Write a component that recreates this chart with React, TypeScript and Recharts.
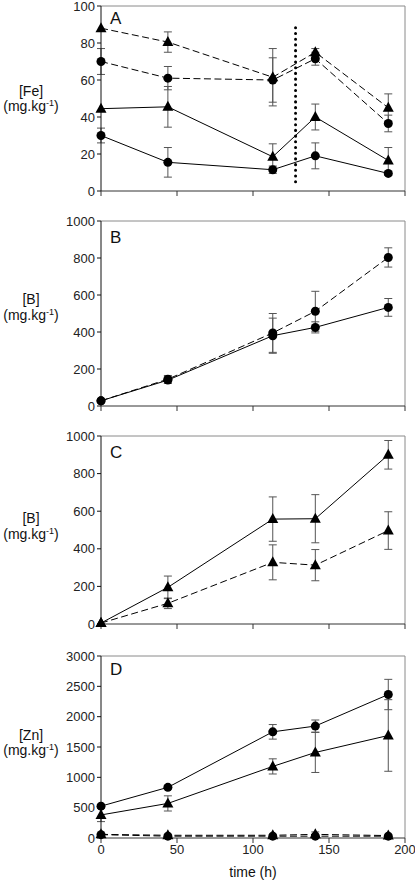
import React from 'react';
import { LineChart, Line, XAxis, YAxis, ErrorBar, ReferenceLine } from 'recharts';

const FONT = '"Liberation Sans", Arial, sans-serif';

// time points (h)
const times = [0, 44, 113, 141, 189];
const xTicks = [0, 50, 100, 150, 200];

// Panel A: [Fe]
const feTriDashed = [88, 80.5, 61.5, 75, 45];
const feTriDashedErr = [0, 5.5, 15.5, 2, 7.5];
const feCircDashed = [70, 61, 60, 71.5, 36.5];
const feCircDashedErr = [7, 6.3, 12, 3.5, 4.5];
const feTriSolid = [44.5, 45.5, 18.5, 40, 16.5];
const feTriSolidErr = [0, 11, 7, 7, 7];
const feCircSolid = [30, 15.5, 11.5, 19, 9.5];
const feCircSolidErr = [4, 8, 2, 7, 1];
const feTicks = [0, 20, 40, 60, 80, 100];

// Panel B: [B]
const bCircSolid = [28, 140, 380, 425, 533];
const bCircSolidErr = [8, 18, 95, 30, 48];
const bCircDashed = [28, 145, 395, 512, 803];
const bCircDashedErr = [8, 20, 105, 108, 52];
const bTicks = [0, 200, 400, 600, 800, 1000];

// Panel C: [B]
const cTriSolid = [5, 195, 558, 560, 900];
const cTriSolidErr = [0, 60, 118, 128, 76];
const cTriDashed = [5, 110, 328, 313, 497];
const cTriDashedErr = [0, 28, 93, 83, 100];
const cTicks = [0, 200, 400, 600, 800, 1000];

// Panel D: [Zn]
const zCircSolid = [525, 835, 1750, 1845, 2365];
const zCircSolidErr = [20, 30, 120, 100, 250];
const zTriSolid = [380, 570, 1180, 1410, 1690];
const zTriSolidErr = [110, 125, 125, 330, 590];
const zCircDashed = [55, 30, 30, 30, 30];
const zCircDashedErr = [0, 0, 0, 0, 0];
const zTriDashed = [60, 45, 45, 60, 40];
const zTriDashedErr = [0, 0, 0, 40, 0];
const zTicks = [0, 500, 1000, 1500, 2000, 2500, 3000];

type Series = { key: string; values: number[]; err: number[]; shape: 'tri' | 'circ'; dashed: boolean };

const Circ = (p: any) => {
  if (p.cx == null || p.cy == null) return <g key={p.key} />;
  return <circle key={p.key} cx={p.cx} cy={p.cy} r={4.5} fill="#000" stroke="none" />;
};
const Tri = (p: any) => {
  if (p.cx == null || p.cy == null) return <g key={p.key} />;
  const { cx, cy } = p;
  return (
    <polygon
      key={p.key}
      points={`${cx},${cy - 6} ${cx - 5.5},${cy + 4} ${cx + 5.5},${cy + 4}`}
      fill="#000"
      stroke="none"
    />
  );
};

function buildData(series: Series[]) {
  return times.map((t, i) => {
    const row: any = { t };
    series.forEach((s) => {
      row[s.key] = s.values[i];
      row[s.key + 'E'] = s.err[i];
    });
    return row;
  });
}

type PanelProps = {
  top: number;
  height: number;
  plotTop: number;
  xAxisHeight: number;
  yMax: number;
  yTicks: number[];
  letter: string;
  letterY: number;
  ylab: string;
  lab1Y: number;
  lab2Y: number;
  series: Series[];
  showX: boolean;
  dotted?: boolean;
};

function Panel(props: PanelProps) {
  const data = buildData(props.series);
  const labelContent = () => (
    <g fontFamily={FONT} fill="#111">
      <text x={31} y={props.lab1Y} textAnchor="middle" fontSize={14}>
        {props.ylab}
      </text>
      <text x={31} y={props.lab2Y} textAnchor="middle" fontSize={14}>
        (mg.kg
        <tspan dy={-5} fontSize={9}>-1</tspan>
        <tspan dy={5}>)</tspan>
      </text>
      <text x={110} y={props.letterY} fontSize={17}>
        {props.letter}
      </text>
    </g>
  );
  const xLabelContent = () =>
    props.showX ? (
      <text x={253} y={237} textAnchor="middle" fontSize={14} fontFamily={FONT} fill="#111">
        time (h)
      </text>
    ) : (
      <g />
    );
  return (
    <div style={{ position: 'absolute', left: 0, top: props.top }}>
      <LineChart
        width={415}
        height={props.height}
        data={data}
        margin={{ top: props.plotTop, right: 10, bottom: 0, left: 0 }}
      >
        <XAxis
          dataKey="t"
          type="number"
          domain={[0, 200]}
          ticks={xTicks}
          height={props.xAxisHeight}
          stroke="#333"
          tickLine={{ stroke: '#333' }}
          tickSize={5}
          tickMargin={2}
          tick={{ fontSize: 13, fill: '#222', fontFamily: FONT }}
          tickFormatter={(v: number) => (props.showX ? String(v) : '')}
          label={{ content: xLabelContent } as any}
          allowDecimals={false}
        />
        <YAxis
          type="number"
          domain={[0, props.yMax]}
          ticks={props.yTicks}
          width={101}
          stroke="#111"
          tickLine={{ stroke: '#111' }}
          tickSize={4}
          tickMargin={2}
          tick={{ fontSize: 13, fill: '#222', fontFamily: FONT }}
          interval={0}
          label={{ content: labelContent } as any}
        />
        <ReferenceLine y={props.yMax} stroke="#8a8a8a" strokeWidth={1} />
        <ReferenceLine x={200} stroke="#8a8a8a" strokeWidth={1} />
        {props.dotted && (
          <ReferenceLine
            segment={[
              { x: 128, y: 5 },
              { x: 128, y: 91 },
            ]}
            stroke="#000"
            strokeWidth={3}
            strokeLinecap="round"
            strokeDasharray="0.1 5.6"
          />
        )}
        {props.series.map((s) => (
          <Line
            key={s.key}
            type="linear"
            dataKey={s.key}
            stroke="#000"
            strokeWidth={1}
            strokeDasharray={s.dashed ? '7 3.5' : undefined}
            dot={s.shape === 'tri' ? Tri : Circ}
            activeDot={false}
            isAnimationActive={false}
          >
            <ErrorBar dataKey={s.key + 'E'} width={4} stroke="#555" strokeWidth={1} direction="y" />
          </Line>
        ))}
      </LineChart>
    </div>
  );
}

export default function App() {
  return (
    <div style={{ position: 'absolute', left: 0, top: 0, width: 415, height: 882, background: '#fff' }}>
      <Panel
        top={0}
        height={205}
        plotTop={6}
        xAxisHeight={14}
        yMax={100}
        yTicks={feTicks}
        letter="A"
        letterY={24}
        ylab="[Fe]"
        lab1Y={96}
        lab2Y={111}
        dotted
        series={[
          { key: 'ftd', values: feTriDashed, err: feTriDashedErr, shape: 'tri', dashed: true },
          { key: 'fcd', values: feCircDashed, err: feCircDashedErr, shape: 'circ', dashed: true },
          { key: 'fts', values: feTriSolid, err: feTriSolidErr, shape: 'tri', dashed: false },
          { key: 'fcs', values: feCircSolid, err: feCircSolidErr, shape: 'circ', dashed: false },
        ]}
        showX={false}
      />
      <Panel
        top={210}
        height={210}
        plotTop={11}
        xAxisHeight={14}
        yMax={1000}
        yTicks={bTicks}
        letter="B"
        letterY={33}
        ylab="[B]"
        lab1Y={94}
        lab2Y={110}
        series={[
          { key: 'bcd', values: bCircDashed, err: bCircDashedErr, shape: 'circ', dashed: true },
          { key: 'bcs', values: bCircSolid, err: bCircSolidErr, shape: 'circ', dashed: false },
        ]}
        showX={false}
      />
      <Panel
        top={420}
        height={215}
        plotTop={16}
        xAxisHeight={11}
        yMax={1000}
        yTicks={cTicks}
        letter="C"
        letterY={38}
        ylab="[B]"
        lab1Y={103}
        lab2Y={119}
        series={[
          { key: 'ctd', values: cTriDashed, err: cTriDashedErr, shape: 'tri', dashed: true },
          { key: 'cts', values: cTriSolid, err: cTriSolidErr, shape: 'tri', dashed: false },
        ]}
        showX={false}
      />
      <Panel
        top={640}
        height={242}
        plotTop={16}
        xAxisHeight={44}
        yMax={3000}
        yTicks={zTicks}
        letter="D"
        letterY={35}
        ylab="[Zn]"
        lab1Y={100}
        lab2Y={115}
        series={[
          { key: 'zcd', values: zCircDashed, err: zCircDashedErr, shape: 'circ', dashed: true },
          { key: 'ztd', values: zTriDashed, err: zTriDashedErr, shape: 'tri', dashed: true },
          { key: 'zcs', values: zCircSolid, err: zCircSolidErr, shape: 'circ', dashed: false },
          { key: 'zts', values: zTriSolid, err: zTriSolidErr, shape: 'tri', dashed: false },
        ]}
        showX
      />
    </div>
  );
}
